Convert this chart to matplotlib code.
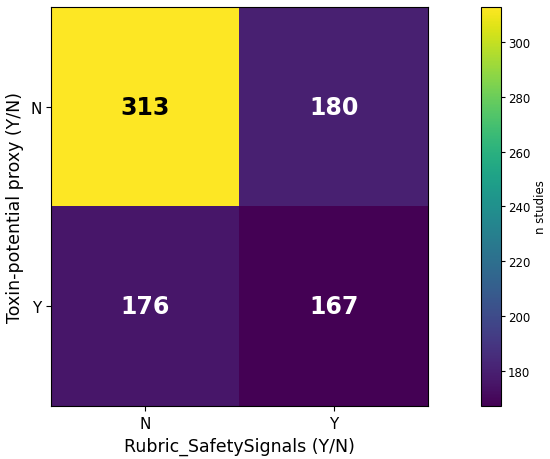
import numpy as np
import matplotlib.pyplot as plt

row_labels = ['N', 'Y']
col_labels = ['N', 'Y']
counts = np.array([[313, 180],
                   [176, 167]])

fig = plt.figure(figsize=(5.5, 4.6), dpi=100)
ax = fig.add_axes([0.093, 0.115, 0.685, 0.868])
cax = fig.add_axes([0.8745, 0.115, 0.0364, 0.868])

im = ax.imshow(counts, cmap='viridis', aspect='auto')
ax.set_xticks(range(len(col_labels)))
ax.set_xticklabels(col_labels, fontsize=11)
ax.set_yticks(range(len(row_labels)))
ax.set_yticklabels(row_labels, fontsize=11)
ax.set_xlabel('Rubric_SafetySignals (Y/N)', fontsize=12.5)
ax.set_ylabel('Toxin-potential proxy (Y/N)', fontsize=12.5)

mid = (counts.max() + counts.min()) / 2
for i in range(counts.shape[0]):
    for j in range(counts.shape[1]):
        c = 'black' if counts[i, j] > mid else 'white'
        ax.text(j, i, str(counts[i, j]), ha='center', va='center',
                fontsize=17, fontweight='bold', color=c)

cb = fig.colorbar(im, cax=cax)
cb.ax.tick_params(labelsize=8.5, length=3, pad=2)
cb.set_ticks(range(180, 301, 20))
cb.set_label('n studies', fontsize=8.5, labelpad=3)

fig.savefig('out.png', dpi=100)
